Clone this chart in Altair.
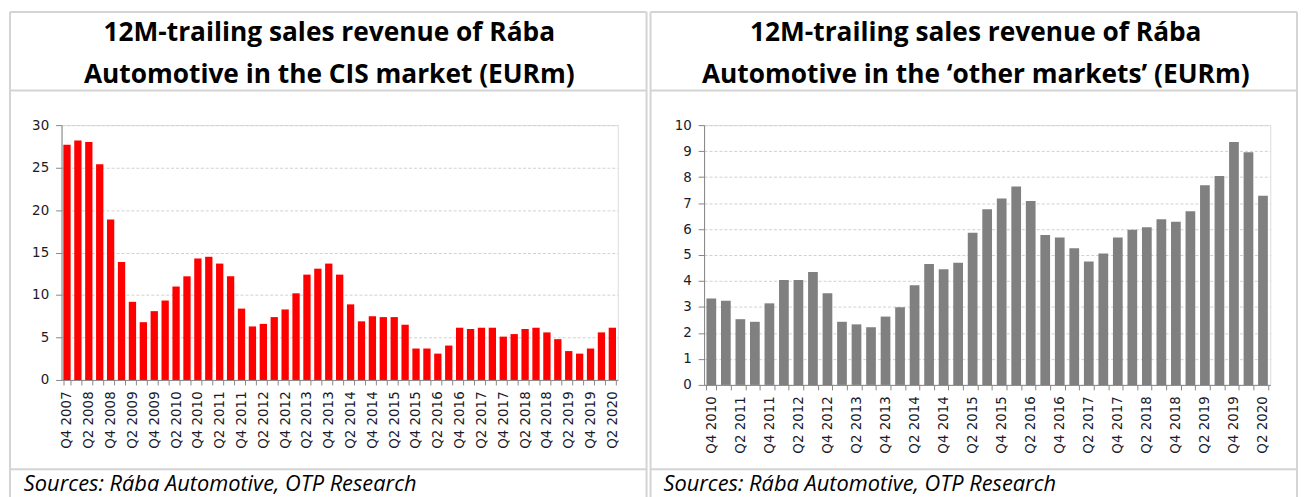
import altair as alt
import pandas as pd

def quarters(start_year, start_q, n):
    out = []
    y, q = start_year, start_q
    for _ in range(n):
        out.append(f"Q{q} {y}")
        q += 1
        if q > 4:
            q = 1
            y += 1
    return out

cis_values = [27.7, 28.2, 28.0, 25.4, 18.9, 13.9, 9.2, 6.8, 8.1, 9.35,
              11.0, 12.2, 14.3, 14.5, 13.7, 12.2, 8.4, 6.3, 6.6, 7.4,
              8.3, 10.2, 12.4, 13.1, 13.7, 12.4, 8.9, 6.9, 7.5, 7.4,
              7.4, 6.5, 3.7, 3.7, 3.1, 4.05, 6.15, 6.0, 6.15, 6.15,
              5.1, 5.4, 6.0, 6.15, 5.6, 4.8, 3.4, 3.1, 3.7, 5.6, 6.15]
cis_quarters = quarters(2007, 4, len(cis_values))

other_values = [3.33, 3.24, 2.53, 2.43, 3.14, 4.04, 4.04, 4.35, 3.53, 2.43,
                2.33, 2.22, 2.63, 2.99, 3.84, 4.65, 4.45, 4.7, 5.86, 6.76,
                7.18, 7.64, 7.08, 5.77, 5.67, 5.26, 4.75, 5.06, 5.67, 5.97,
                6.07, 6.38, 6.28, 6.68, 7.69, 8.04, 9.35, 8.96, 7.28]
other_quarters = quarters(2010, 4, len(other_values))

title_left = ["12M-trailing sales revenue of Rába", "Automotive in the CIS market (EURm)"]
title_right = ["12M-trailing sales revenue of Rába", "Automotive in the \u2018other markets\u2019 (EURm)"]
source_text = "Sources: Rába Automotive, OTP Research"

BORDER = "#d4d4d4"
AXIS = "#868686"
LABEL_EXPR = "(substring(datum.value, 0, 2) == 'Q4' || substring(datum.value, 0, 2) == 'Q2') ? datum.value : ''"
one = pd.DataFrame({"a": [0]})


def rule(x, x2, y, y2):
    return alt.Chart(one).mark_rule(color=BORDER, strokeWidth=2).encode(
        x=alt.value(x), x2=alt.value(x2), y=alt.value(y), y2=alt.value(y2))


def text(t, x, y, **kw):
    return alt.Chart(one).mark_text(**kw).encode(
        x=alt.value(x), y=alt.value(y), text=alt.value(t))


def panel(cats, vals, color, ymax, ystep, width, height, titles, left_border, right_border, title_cx, src_x):
    df = pd.DataFrame({"q": cats, "v": vals})
    bars = alt.Chart(df).mark_bar(color=color).encode(
        x=alt.X("q:N", sort=cats, title=None,
                scale=alt.Scale(paddingInner=0.33, paddingOuter=0.165),
                axis=alt.Axis(labelAngle=270, labelExpr=LABEL_EXPR, tickBand="extent",
                              labelFont="DejaVu Sans", labelFontSize=13.5, labelColor="#1a1a2a",
                              domainColor=AXIS, tickColor=AXIS, tickSize=5, labelPadding=6,
                              labelOverlap=False)),
        y=alt.Y("v:Q", title=None,
                scale=alt.Scale(domain=[0, ymax], nice=False),
                axis=alt.Axis(values=list(range(0, ymax + 1, ystep)), grid=True,
                              gridDash=[3, 2], gridColor="#d0d0d0",
                              labelFont="DejaVu Sans", labelFontSize=13.5, labelColor="#1a1a2a",
                              domainColor=AXIS, tickColor=AXIS, tickSize=6, labelPadding=7)),
    )
    top = -114
    layers = [bars,
              rule(left_border, right_border, top, top),
              rule(left_border, right_border, -35, -35),
              rule(left_border, right_border, 347, 347),
              rule(left_border, left_border, top, 380),
              rule(right_border, right_border, top, 380),
              text(titles[0], title_cx, -93, font="Open Sans", fontSize=26.5, fontWeight="bold",
                   align="center", baseline="middle", color="#000"),
              text(titles[1], title_cx, -50, font="Open Sans", fontSize=26.5, fontWeight="bold",
                   align="center", baseline="middle", color="#000"),
              text(source_text, src_x, 362, font="Open Sans", fontSize=22, fontStyle="italic",
                   align="left", baseline="middle", color="#000")]
    return alt.layer(*layers).properties(width=width, height=height)


left = panel(cis_quarters, cis_values, "#ff0000", 30, 5, 561, 257, title_left, -52, 590, 270, -38)
right = panel(other_quarters, other_values, "#808080", 10, 1, 571, 262, title_right, -54, 598, 274, -41)

chart = alt.hconcat(left, right, spacing=0).properties(padding=0).configure_view(
    stroke=None).configure(background="white")

chart.save("out.html", embed_options={"renderer": "svg", "actions": False})
